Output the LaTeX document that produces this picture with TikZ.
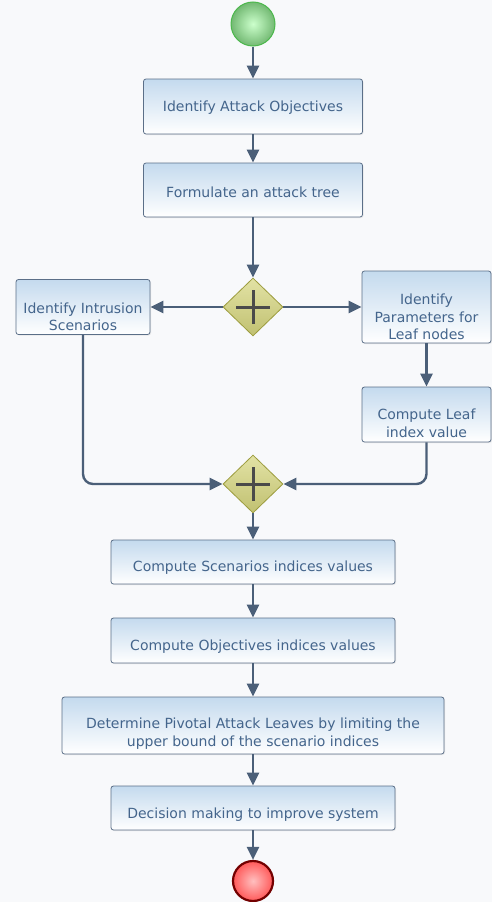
\documentclass[tikz,border=0pt]{standalone}
\usepackage{fontspec}
\setmainfont{DejaVu Sans}
\usetikzlibrary{shapes.geometric,arrows.meta,shadows}
\definecolor{bg}{HTML}{F8F9FB}
\definecolor{boxtop}{HTML}{C4DAEE}
\definecolor{boxline}{HTML}{5B6F88}
\definecolor{txt}{HTML}{44658C}
\definecolor{arr}{HTML}{4B5F78}
\definecolor{gwfill}{HTML}{D6D67E}
\definecolor{gwline}{HTML}{9C9C3E}
\definecolor{plus}{HTML}{4A4A4A}
\tikzset{
  task/.style={rectangle, rounded corners=2.5pt, draw=boxline, line width=0.8pt,
    top color=boxtop, bottom color=white, inner sep=0pt,
    drop shadow={shadow xshift=1pt, shadow yshift=-1pt, opacity=0.15}},
  tasktext/.style={text=txt, font=\fontsize{14}{17.5}\selectfont, align=center, inner sep=0pt},
  gw/.style={diamond, draw=gwline, line width=0.8pt, top color=gwfill!70!white, bottom color=gwfill!90!black,
    minimum width=60pt, minimum height=58pt, inner sep=0pt},
  flow/.style={draw=arr, line width=2.4pt, -{Triangle[length=13pt,width=12pt]}, rounded corners=10pt},
}
\begin{document}
\begin{tikzpicture}[x=1pt,y=-1pt]
\useasboundingbox (0,0) rectangle (492,902);
\fill[bg] (0,0) rectangle (492,902);
% start / end
\node[circle, draw=green!60!black!70, line width=1pt, inner color=green!20!white, outer color=green!50!black!55!white, minimum size=44pt, inner sep=0pt] (start) at (253,24) {};
\node[circle, draw=red!45!black, line width=2.2pt, inner color=red!25!white, outer color=red!65!white, minimum size=40pt, inner sep=0pt] (stop) at (253,881) {};
% tasks
\node[task, minimum width=219pt, minimum height=55pt] (b1) at (253,106.5) {};
\node[tasktext] (b1t) at ([yshift=-1pt]b1.center) {Identify Attack Objectives};
\node[task, minimum width=219pt, minimum height=54pt] (b2) at (253,190) {};
\node[tasktext] (b2t) at ([yshift=-2pt]b2.center) {Formulate an attack tree};
\node[gw] (g1) at (253,307) {};
\draw[plus, line width=3pt] ([xshift=-17pt]g1.center) -- ([xshift=17pt]g1.center) ([yshift=-17pt]g1.center) -- ([yshift=17pt]g1.center);
\node[task, minimum width=134pt, minimum height=55pt] (isc) at (83,307) {};
\node[tasktext] (isct) at ([yshift=-10pt]isc.center) {Identify Intrusion\\Scenarios};
\node[task, minimum width=129pt, minimum height=72pt] (ipl) at (426.5,307) {};
\node[tasktext] (iplt) at ([yshift=-10pt]ipl.center) {Identify\\Parameters for\\Leaf nodes};
\node[task, minimum width=129pt, minimum height=55pt] (clv) at (426.5,414.5) {};
\node[tasktext] (clvt) at ([yshift=-9pt]clv.center) {Compute Leaf\\index value};
\node[gw] (g2) at (253,484) {};
\draw[plus, line width=3pt] ([xshift=-17pt]g2.center) -- ([xshift=17pt]g2.center) ([yshift=-17pt]g2.center) -- ([yshift=17pt]g2.center);
\node[task, minimum width=284pt, minimum height=44pt] (csi) at (253,562) {};
\node[tasktext] (csit) at ([yshift=-6pt]csi.center) {Compute Scenarios indices values};
\node[task, minimum width=284pt, minimum height=45pt] (coi) at (253,640.5) {};
\node[tasktext] (coit) at ([yshift=-6pt]coi.center) {Compute Objectives indices values};
\node[task, minimum width=382pt, minimum height=57pt] (dpa) at (253,725.5) {};
\node[tasktext] (dpat) at ([yshift=-8pt]dpa.center) {Determine Pivotal Attack Leaves by limiting the\\upper bound of the scenario indices};
\node[task, minimum width=284pt, minimum height=44pt] (dms) at (253,808) {};
\node[tasktext] (dmst) at ([yshift=-7pt]dms.center) {Decision making to improve system};
% flows
\draw[flow] (start) -- (b1);
\draw[flow] (b1) -- (b2);
\draw[flow] (b2) -- (g1);
\draw[flow] (g1) -- (isc);
\draw[flow] (g1) -- (ipl);
\draw[flow] (ipl) -- (clv);
\draw[flow] (isc.south) |- (g2.west);
\draw[flow] (clv.south) |- (g2.east);
\draw[flow] (g2) -- (csi);
\draw[flow] (csi) -- (coi);
\draw[flow] (coi) -- (dpa);
\draw[flow] (dpa) -- (dms);
\draw[flow] (dms) -- (stop);
\end{tikzpicture}
\end{document}
